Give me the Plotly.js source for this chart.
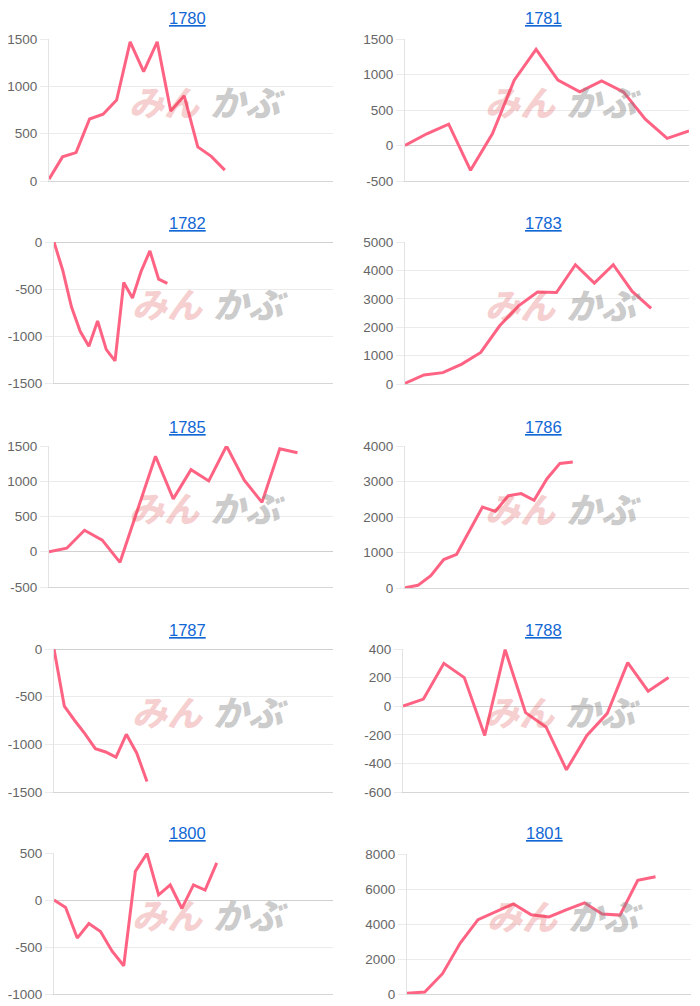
<!DOCTYPE html>
<html>
<head>
<meta charset="utf-8">
<script src="https://cdn.plot.ly/plotly-3.0.1.min.js"></script>
<style>html,body{margin:0;padding:0;background:#fff;}#chart{width:700px;height:1006px;}</style>
</head>
<body>
<div id="chart"></div>
<script>
// ---- data ----
const titles = ['1780','1781','1782','1783','1785','1786','1787','1788','1800','1801'];
const v1780 = [20, 255, 300, 655, 705, 855, 1470, 1155, 1470, 740, 900, 360, 260, 115];
const v1781 = [0, 165, 300, -350, 165, 920, 1355, 920, 755, 910, 755, 370, 100, 205];
const v1782 = [0, -300, -690, -950, -1110, -840, -1145, -1265, -430, -595, -310, -95, -395, -440];
const v1783 = [25, 320, 400, 700, 1110, 2050, 2750, 3240, 3220, 4200, 3550, 4200, 3260, 2660];
const v1785 = [0, 50, 305, 165, -150, 600, 1355, 750, 1165, 1005, 1500, 1015, 700, 1460, 1405];
const v1786 = [10, 75, 350, 800, 950, 1625, 2280, 2160, 2600, 2660, 2470, 3080, 3510, 3550];
const v1787 = [0, -600, -750, -890, -1045, -1080, -1135, -895, -1090, -1390];
const v1788 = [0, 50, 300, 200, -205, 395, -45, -145, -445, -205, -50, 305, 105, 200];
const v1800 = [0, -80, -405, -250, -335, -545, -700, 305, 495, 55, 160, -90, 160, 105, 395];
const v1801 = [40, 115, 1160, 2910, 4250, 4720, 5150, 4530, 4400, 4820, 5210, 4570, 4510, 6500, 6700];
const seriesValues = [v1780, v1781, v1782, v1783, v1785, v1786, v1787, v1788, v1800, v1801];
// number of x-axis label slots per chart
const slotCounts = [22, 14, 33, 16, 17, 23, 28, 15, 25, 17];
// y-axis tick labels per chart
const yTicks1780 = [0, 500, 1000, 1500];
const yTicks1781 = [-500, 0, 500, 1000, 1500];
const yTicks1782 = [-1500, -1000, -500, 0];
const yTicks1783 = [0, 1000, 2000, 3000, 4000, 5000];
const yTicks1785 = [-500, 0, 500, 1000, 1500];
const yTicks1786 = [0, 1000, 2000, 3000, 4000];
const yTicks1787 = [-1500, -1000, -500, 0];
const yTicks1788 = [-600, -400, -200, 0, 200, 400];
const yTicks1800 = [-1000, -500, 0, 500];
const yTicks1801 = [0, 2000, 4000, 6000, 8000];
const yTickSets = [yTicks1780, yTicks1781, yTicks1782, yTicks1783, yTicks1785,
                   yTicks1786, yTicks1787, yTicks1788, yTicks1800, yTicks1801];

// ---- layout geometry (pixels) ----
const W = 700, H = 1006;
const boxes = [
  [49, 333, 39, 181], [405, 689, 39, 181],
  [54, 333, 242, 383], [405, 689, 242, 384],
  [49, 333, 446, 587], [405, 689, 446, 588],
  [54, 333, 649, 792], [403, 689, 649, 792],
  [54, 333, 853, 994], [407, 691, 854, 994]
];
const titlePos = [
  [187, 18], [543, 18], [187, 223], [543, 223], [187, 427],
  [543, 427], [187, 630], [543, 630], [187, 833], [544, 833]
];

const traces = [];
const layout = {
  width: W, height: H,
  margin: {l: 0, r: 0, t: 0, b: 0},
  paper_bgcolor: '#ffffff', plot_bgcolor: '#ffffff',
  showlegend: false,
  annotations: [],
  font: {family: 'Liberation Sans, Arial, sans-serif', color: '#666666', size: 13.5}
};

seriesValues.forEach((vals, i) => {
  const n = i + 1;
  const xa = n === 1 ? 'x' : 'x' + n;
  const ya = n === 1 ? 'y' : 'y' + n;
  traces.push({
    type: 'scatter', mode: 'lines',
    x: vals.map((_, k) => k), y: vals,
    xaxis: xa, yaxis: ya,
    line: {color: '#ff6384', width: 3},
    hoverinfo: 'skip'
  });
  const [l, r, t, b] = boxes[i];
  const tv = yTickSets[i];
  layout['xaxis' + (n === 1 ? '' : n)] = {
    domain: [l / W, r / W], anchor: ya,
    range: [0, slotCounts[i] - 1],
    showgrid: false, zeroline: false, showticklabels: false, ticks: '',
    showline: true, linecolor: '#d6d6d6', linewidth: 1, fixedrange: true
  };
  layout['yaxis' + (n === 1 ? '' : n)] = {
    domain: [1 - b / H, 1 - t / H], anchor: xa,
    range: [tv[0], tv[tv.length - 1]],
    tickmode: 'array', tickvals: tv, ticktext: tv.map(v => String(v)),
    showgrid: true, gridcolor: '#ebebeb', gridwidth: 1,
    zeroline: true, zerolinecolor: '#d0d0d0', zerolinewidth: 1,
    showline: true, linecolor: '#e3e3e3', linewidth: 1,
    ticks: 'outside', ticklen: 8, tickcolor: '#ebebeb',
    tickfont: {family: 'Liberation Sans, Arial, sans-serif', size: 13.5, color: '#666666'},
    fixedrange: true
  };
  // title
  layout.annotations.push({
    xref: 'paper', yref: 'paper',
    x: titlePos[i][0] / W, y: 1 - titlePos[i][1] / H,
    xanchor: 'center', yanchor: 'middle',
    text: titles[i], showarrow: false,
    font: {family: 'Liberation Sans, Arial, sans-serif', size: 16.5, color: '#1167d4', lineposition: 'under'}
  });
  // watermark
  const cx = (l + r) / 2 + 14, cy = (t + b) / 2 - 10;
  layout.annotations.push({
    xref: 'paper', yref: 'paper',
    x: (cx - 3) / W, y: 1 - cy / H, xanchor: 'right', yanchor: 'middle',
    text: 'みん', showarrow: false,
    font: {family: 'Noto Sans CJK JP', size: 35, weight: 900, style: 'italic', color: 'rgba(220,70,70,0.26)'}
  });
  layout.annotations.push({
    xref: 'paper', yref: 'paper',
    x: (cx + 3) / W, y: 1 - cy / H, xanchor: 'left', yanchor: 'middle',
    text: 'かぶ', showarrow: false,
    font: {family: 'Noto Sans CJK JP', size: 35, weight: 900, style: 'italic', color: 'rgba(130,130,130,0.42)'}
  });
});

Plotly.newPlot('chart', traces, layout, {staticPlot: true, displayModeBar: false});
</script>
</body>
</html>
